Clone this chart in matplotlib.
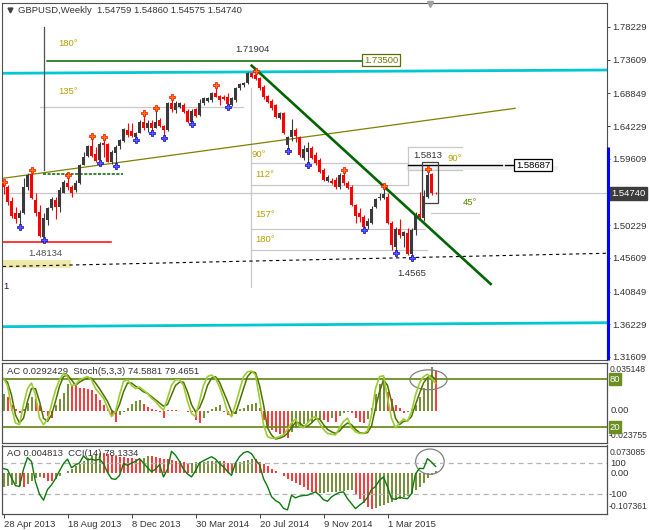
import matplotlib
matplotlib.use('Agg')
import matplotlib.pyplot as plt
import numpy as np
from matplotlib.patches import Rectangle, Ellipse

plt.rcParams['font.family'] = ['Liberation Sans', 'DejaVu Sans']

# --- dados: GBPUSD semanal, barra 0 = semana de 28 Apr 2013 ---
opens = [1.5600, 1.5566, 1.5368, 1.5199, 1.5120, 1.5191, 1.5566, 1.5740, 1.5379, 1.5213,
         1.4860, 1.5096, 1.5261, 1.5379, 1.5284, 1.5482, 1.5615, 1.5558, 1.5520, 1.5615,
         1.5873, 1.6000, 1.6141, 1.6028, 1.5944, 1.6180, 1.6170, 1.5920, 1.6040, 1.6141,
         1.6212, 1.6368, 1.6353, 1.6269, 1.6325, 1.6485, 1.6396, 1.6471, 1.6396, 1.6509,
         1.6424, 1.6368, 1.6753, 1.6650, 1.6697, 1.6721, 1.6640, 1.6485, 1.6660, 1.6579,
         1.6745, 1.6781, 1.6791, 1.6886, 1.6848, 1.6829, 1.6838, 1.6721, 1.6791, 1.6957,
         1.7003, 1.7027, 1.7177, 1.7145, 1.7098, 1.6979, 1.6848, 1.6781, 1.6721, 1.6533,
         1.6603, 1.6156, 1.6269, 1.6368, 1.6264, 1.5972, 1.6061, 1.6109, 1.6014, 1.5944,
         1.5802, 1.5651, 1.5651, 1.5661, 1.5566, 1.5732, 1.5623, 1.5566, 1.5308, 1.5191,
         1.5143, 1.5011, 1.5058, 1.5284, 1.5403, 1.5403, 1.5425, 1.5049, 1.4715, 1.4969,
         1.4870, 1.4910, 1.4616, 1.4955, 1.5185, 1.5125, 1.5420, 1.5742, 1.54759]
highs = [1.5625, 1.5591, 1.5425, 1.5284, 1.5237, 1.5689, 1.5760, 1.5802, 1.5480, 1.5308,
         1.5191, 1.5284, 1.5425, 1.5425, 1.5566, 1.5655, 1.5732, 1.5591, 1.5661, 1.5887,
         1.6061, 1.6156, 1.6283, 1.6127, 1.6204, 1.6264, 1.6180, 1.6085, 1.6156, 1.6240,
         1.6396, 1.6462, 1.6466, 1.6340, 1.6509, 1.6603, 1.6509, 1.6509, 1.6668, 1.6533,
         1.6440, 1.6767, 1.6823, 1.6777, 1.6770, 1.6749, 1.6660, 1.6660, 1.6683, 1.6801,
         1.6838, 1.6838, 1.6909, 1.6996, 1.6862, 1.6855, 1.6886, 1.6838, 1.6975, 1.7032,
         1.7050, 1.7185, 1.7185, 1.7190, 1.7116, 1.7003, 1.6862, 1.6805, 1.6735, 1.6626,
         1.6626, 1.6283, 1.6519, 1.6396, 1.6283, 1.6156, 1.6198, 1.6141, 1.6057, 1.5972,
         1.5831, 1.5725, 1.5689, 1.5704, 1.5760, 1.5802, 1.5647, 1.5591, 1.5322, 1.5266,
         1.5167, 1.5120, 1.5294, 1.5403, 1.5473, 1.5576, 1.5478, 1.5082, 1.4997, 1.5110,
         1.4941, 1.4990, 1.4983, 1.5210, 1.5498, 1.5523, 1.5815, 1.5760, 1.54860]
lows = [1.5470, 1.5308, 1.5120, 1.5055, 1.5010, 1.5181, 1.5520, 1.5395, 1.5153, 1.4860,
        1.4814, 1.5025, 1.5237, 1.5106, 1.5213, 1.5478, 1.5520, 1.5425, 1.5496, 1.5605,
        1.5873, 1.5990, 1.5990, 1.5920, 1.5906, 1.5990, 1.5915, 1.5890, 1.5862, 1.6099,
        1.6198, 1.6264, 1.6268, 1.6233, 1.6321, 1.6368, 1.6344, 1.6329, 1.6396, 1.6414,
        1.6255, 1.6353, 1.6622, 1.6608, 1.6680, 1.6608, 1.6471, 1.6460, 1.6547, 1.6565,
        1.6721, 1.6763, 1.6767, 1.6829, 1.6721, 1.6785, 1.6695, 1.6707, 1.6767, 1.6933,
        1.6979, 1.7017, 1.7102, 1.7067, 1.6933, 1.6805, 1.6749, 1.6650, 1.6537, 1.6523,
        1.6304, 1.6075, 1.6212, 1.6198, 1.5986, 1.5944, 1.5873, 1.5958, 1.5880, 1.5760,
        1.5640, 1.5633, 1.5605, 1.5534, 1.5540, 1.5591, 1.5534, 1.5294, 1.5054, 1.5068,
        1.4955, 1.4975, 1.5040, 1.5266, 1.5379, 1.5389, 1.5040, 1.4672, 1.4637, 1.4842,
        1.4715, 1.4595, 1.4565, 1.4890, 1.5090, 1.5085, 1.5400, 1.5447, 1.54575]
closes = [1.5560, 1.5355, 1.5153, 1.5106, 1.5191, 1.5566, 1.5732, 1.5403, 1.5191, 1.4870,
          1.5120, 1.5266, 1.5389, 1.5284, 1.5520, 1.5637, 1.5558, 1.5482, 1.5623, 1.5873,
          1.5990, 1.6141, 1.6000, 1.5934, 1.6170, 1.6156, 1.5920, 1.6060, 1.6127, 1.6226,
          1.6377, 1.6297, 1.6283, 1.6325, 1.6485, 1.6400, 1.6471, 1.6391, 1.6485, 1.6424,
          1.6368, 1.6753, 1.6664, 1.6749, 1.6745, 1.6626, 1.6485, 1.6640, 1.6565, 1.6745,
          1.6815, 1.6815, 1.6886, 1.6838, 1.6791, 1.6801, 1.6735, 1.6815, 1.6957, 1.7017,
          1.7036, 1.7169, 1.7121, 1.7084, 1.6957, 1.6827, 1.6767, 1.6674, 1.6555, 1.6603,
          1.6321, 1.6264, 1.6368, 1.6283, 1.6014, 1.6099, 1.6109, 1.5968, 1.5897, 1.5778,
          1.5661, 1.5699, 1.5615, 1.5558, 1.5732, 1.5615, 1.5544, 1.5308, 1.5153, 1.5143,
          1.5001, 1.5082, 1.5252, 1.5389, 1.5421, 1.5463, 1.5049, 1.4743, 1.4969, 1.4884,
          1.4927, 1.4616, 1.4948, 1.5185, 1.5135, 1.5440, 1.5725, 1.5478, 1.54740]

up_fractals = [0, 7, 16, 22, 25, 35, 38, 42, 53, 63, 85, 95, 106]
down_fractals = [4, 10, 24, 28, 33, 37, 40, 47, 56, 71, 76, 90, 98, 102]

stoch_main = [81, 72, 44, 25, 23, 48, 68, 75, 60, 31, 23, 29, 48, 66, 79, 87, 83, 72, 73, 79,
              81, 83, 79, 68, 62, 56, 44, 33, 39, 60, 77, 79, 72, 68, 70, 66, 62, 56, 52, 46,
              41, 56, 72, 79, 79, 72, 52, 37, 33, 52, 72, 83, 85, 81, 70, 56, 39, 33, 48, 66,
              83, 89, 90, 85, 56, 23, 8, 6, 6, 8, 10, 17, 25, 30, 21, 19, 25, 31, 33, 25,
              17, 12, 11, 10, 19, 27, 31, 19, 14, 12, 12, 15, 35, 68, 83, 84, 56, 31, 19, 25,
              30, 27, 39, 60, 75, 83, 86, 81, 74.5881]
stoch_signal = [80, 76, 60, 35, 25, 31, 52, 68, 68, 52, 31, 27, 35, 52, 71, 83, 85, 79, 72, 76,
                79, 81, 81, 75, 68, 60, 52, 41, 37, 48, 64, 75, 75, 71, 68, 64, 62, 58, 54, 50,
                46, 48, 60, 72, 76, 76, 64, 48, 39, 44, 56, 72, 81, 83, 76, 64, 52, 39, 37, 52,
                68, 83, 89, 88, 72, 48, 19, 10, 5, 6, 8, 12, 19, 26, 25, 21, 21, 25, 30, 30,
                23, 17, 14, 12, 15, 21, 25, 23, 17, 13, 12, 13, 21, 44, 64, 79, 72, 52, 31, 23,
                27, 28, 33, 48, 62, 75, 82, 84, 79.4651]
# AC e AO em milésimos
ac_values = [12, 10, 4, 1, -2, 1, 6, 10, 9, 4, -1, -4, -5, 4, 9, 13, 20, 19, 18, 17,
             16.5, 16, 15, 12, 8, 4, 1, -4, -8, -3, -1, 2, 5, 7, 8, 5, 3, 1, 0.5, -1,
             -5, 0.5, 0.3, 0.2, 0.1, -0.3, -0.6, -1, -7, -9, -5, -2, 1, 3, 4, -1, -3, -4, -2.5, 1,
             2, 4, 5, 5.5, 2, -7, -11, -14, -16, -17, -19, -20, -16, -13, -12, -10, -9, -8, -7, -6,
             -7, -8, -5.5, -8.5, -4, -2, -1, -1.5, -5.5, -8, -9, -6, 2, 12, 20, 25, 14, 9, 4, 2,
             -2, -1, 1, 4, 10, 17, 24, 32, 29.2429]
ao_values = [-36, -34, -32, -30, -34, -36, -30, -20, -12, -10, -13, -20, -22, -15, -8, 0, 6, 12, 18, 24,
             32, 40, 46, 50, 54, 52, 50, 47, 45, 43, 42, 40, 39, 38, 37, 41, 45, 44, 42, 40,
             38, 36, 35, 33, 31, 28, 26, 27, 28, 29, 30, 31, 32, 33, 33, 31, 27, 24, 26, 29,
             32, 35, 37, 36, 29, 24, 18, 12, 6, 0.5, -8, -15, -20, -26, -32, -38, -44, -50, -54, -53,
             -52, -51, -50, -49, -48, -47, -46, -45, -55, -68, -80, -90, -95, -92, -88, -84, -80, -76, -72, -68,
             -64, -60, -55, -46, -36, -26, -14, -4, 4.813]
cci_values = [64, 58, 5, -45, -50, 60, 135, 110, -20, -100, -138, -70, -40, 0, 50, 96, 125, 70, 88, 100,
              145, 120, 125, 117, 125, 96, 40, 0, -5, 20, 96, 85, 100, 110, 128, 100, 70, 45, 60, 90,
              11, 60, 175, 150, 110, 60, 30, 11, 50, 100, 115, 128, 140, 125, 96, 75, 45, 21, 100, 140,
              165, 174, 160, 120, 90, 0, -50, -115, -140, -155, -190, -200, -106, -123, -112, -108, -106, -95, -85, -106,
              -135, -145, -117, -100, -88, -85, -128, -160, -192, -170, -150, -120, -70, -50, -10, 11, -53, -128, -132, -119,
              -125, -128, -96, 30, 66, 64, 128, 106, 78.1334]

price_ticks = [1.78229, 1.73609, 1.68849, 1.64229, 1.59609, 1.50229, 1.45609, 1.40849, 1.36229, 1.31609]
date_ticks = [0, 16, 32, 48, 64, 80, 96]
date_labels = ['28 Apr 2013', '18 Aug 2013', '8 Dec 2013', '30 Mar 2014',
               '20 Jul 2014', '9 Nov 2014', '1 Mar 2015']

# --- estilo ---
FS = 6.8
FS_SMALL = 6.2
TXT = '#333333'
GANN = '#b8a000'
BULL = '#3a3a3a'
BEAR = '#ff0000'
HIST_UP = '#4f6f00'
GRAY = '#c8c8c8'
XMIN, XMAX = -0.375, 150.875

W, H = 650, 530
def box(x0, y0, x1, y1):
    return [x0 / W, 1 - y1 / H, (x1 - x0) / W, (y1 - y0) / H]

fig = plt.figure(figsize=(6.5, 5.3), dpi=100)
ax = fig.add_axes(box(2, 3, 607, 360))
ax_ac = fig.add_axes(box(2, 363, 607, 443))
ax_ao = fig.add_axes(box(2, 445.5, 607, 513.5))
ax_st = ax_ac.twinx()
ax_cci = ax_ao.twinx()

for a in (ax, ax_ac, ax_ao, ax_st, ax_cci):
    a.set_xlim(XMIN, XMAX)
    for s in a.spines.values():
        s.set_color('#505050')
        s.set_linewidth(0.8)

o = np.array(opens); h = np.array(highs); l = np.array(lows); c = np.array(closes)
x = np.arange(len(c))
cols = [BULL if cc >= oo else BEAR for oo, cc in zip(o, c)]

# --- gráfico principal ---
ax.set_ylim(1.31183, 1.81616)

# linhas cinzas / níveis (atrás das velas)
ax.axhline(1.5474, color=GRAY, lw=0.9, zorder=1)
ax.plot([9.1, 59.9], [1.6692, 1.6692], color=GRAY, lw=0.9, zorder=1)
ax.plot([61.9, 61.9], [1.6961, 1.4150], color=GRAY, lw=0.9, zorder=1)
for lvl, x_end in [(1.5897, 101.1), (1.5586, 101.1), (1.4965, 105.4), (1.4672, 105.9)]:
    ax.plot([61.9, x_end], [lvl, lvl], color=GRAY, lw=0.9, zorder=1)
ax.plot([101.1, 101.1], [1.6123, 1.5591], color=GRAY, lw=0.9, zorder=1)
ax.plot([101.1, 114.6], [1.6123, 1.6123], color=GRAY, lw=0.9, zorder=1)
ax.plot([101.1, 114.6], [1.5802, 1.5802], color=GRAY, lw=0.9, zorder=1)
ax.plot([106.9, 118.9], [1.5199, 1.5199], color=GRAY, lw=0.9, zorder=1)
ax.add_patch(Rectangle((100.6, 1.5802), 38.0, 0.0061, fc='#f0f0f0', ec='none', zorder=0.5))

# canal ciano
ax.plot([XMIN, XMAX], [1.7169, 1.7215], color='#00c8d0', lw=2.0, zorder=2)
ax.plot([XMIN, XMAX], [1.3589, 1.3645], color='#00c8d0', lw=2.0, zorder=2)

# outros objetos
ax.plot([10, 10], [1.7823, 1.5802], color='#505050', lw=0.9, zorder=2)
ax.plot([10.9, 89.6], [1.7345, 1.7345], color='#006400', lw=1.1, zorder=2)
ax.plot([-0.2, 127.9], [1.5685, 1.6674], color='#808000', lw=0.9, zorder=2)
ax.plot([9.9, 29.9], [1.5746, 1.5746], color='#006400', lw=1.1, ls=(0, (2, 1)), zorder=2)
ax.plot([-0.2, XMAX], [1.4439, 1.4626], color='black', lw=0.8, ls=(0, (3, 3)), zorder=2)
ax.add_patch(Rectangle((-0.125, 1.4413), 17.0, 0.0118, fc='#eee8aa', ec='none', zorder=1.5))
ax.plot([XMIN, 26.8], [1.4785, 1.4785], color='#ff0000', lw=1.1, zorder=2)
ax.plot([101.1, 124.6], [1.58687, 1.58687], color='black', lw=1.0, zorder=2)
ax.plot([125.4, 127.6], [1.58687, 1.58687], color='black', lw=1.0, zorder=2)
ax.add_patch(Rectangle((104.55, 1.5332), 4.0, 0.0579, fc='none', ec='#404040', lw=0.9, zorder=4))

# velas
body_lo = np.minimum(o, c)
body_h = np.maximum(np.abs(c - o), 0.0007)
ax.vlines(x, l, h, colors=cols, lw=0.8, zorder=3)
ax.bar(x, body_h, bottom=body_lo, width=0.75, color=cols, linewidth=0, zorder=3)

# fractais
ax.plot(up_fractals, h[up_fractals] + 0.0006, 'P', ms=4, mfc='#ff7a00', mec='#ff0000', mew=0.5, zorder=5)
ax.plot(down_fractals, l[down_fractals] - 0.0006, 'P', ms=4, mfc='#5a5aff', mec='#0000d0', mew=0.5, zorder=5)

# linha de tendência verde
ax.plot([62.05, 121.8], [1.7276, 1.4192], color='#006400', lw=1.9, zorder=4)

# textos
ax.text(13.7, 1.7588, '180°', color=GANN, fontsize=FS, va='center', zorder=6)
ax.text(13.7, 1.6918, '135°', color=GANN, fontsize=FS, va='center', zorder=6)
ax.text(57.9, 1.7498, '1.71904', color=TXT, fontsize=FS, va='center', zorder=6)
ax.text(90.1, 1.7352, '1.73500', color='#6b7b00', fontsize=FS, va='center', zorder=6,
        bbox=dict(boxstyle='square,pad=0.15', fc='white', ec='#5a6e00', lw=0.9))
ax.text(62.05, 1.6028, '90°', color=GANN, fontsize=FS, va='center', zorder=6)
ax.text(62.9, 1.5732, '112°', color=GANN, fontsize=FS, va='center', zorder=6)
ax.text(62.9, 1.5167, '157°', color=GANN, fontsize=FS, va='center', zorder=6)
ax.text(62.9, 1.4823, '180°', color=GANN, fontsize=FS, va='center', zorder=6)
ax.text(102.45, 1.6014, '1.5813', color=TXT, fontsize=FS, va='center', zorder=6)
ax.text(111.05, 1.5958, '90°', color=GANN, fontsize=FS, va='center', zorder=6)
ax.text(114.95, 1.5340, '45°', color='#5a8a00', fontsize=FS, va='center', zorder=6)
ax.text(128.1, 1.58687, '1.58687', color='black', fontsize=FS, va='center', zorder=6,
        bbox=dict(boxstyle='square,pad=0.15', fc='white', ec='black', lw=0.9))
ax.text(98.5, 1.4343, '1.4565', color=TXT, fontsize=FS, va='center', zorder=6)
ax.text(6.2, 1.4626, '1.48134', color='#505050', fontsize=FS, va='center', zorder=6)
ax.text(-0.1, 1.4150, '1', color='#400060', fontsize=FS, va='center', zorder=6)
ax.text(0.027, 0.978, 'GBPUSD,Weekly  1.54759 1.54860 1.54575 1.54740', transform=ax.transAxes,
        color=TXT, fontsize=FS, va='center', zorder=6)
ax.plot([0.0125], [0.979], 'v', ms=3.5, color='#404040', transform=ax.transAxes, zorder=6)
ax.plot([106.6], [1.8145], 'v', ms=4, color='#a0a0a0', clip_on=False, zorder=6)

# eixo de preços
ax.yaxis.tick_right()
ax.set_yticks(price_ticks)
ax.set_yticklabels([f'{p:.5f}' for p in price_ticks])
ax.tick_params(axis='y', direction='out', length=2.5, width=0.7, color='#404040',
               labelsize=FS, pad=1.5, labelcolor=TXT)
ax.tick_params(axis='x', bottom=False, labelbottom=False)
ax.text(1.0066, 1.5474, '1.54740', transform=ax.get_yaxis_transform(), color='white',
        fontsize=FS, va='center', ha='left', clip_on=False,
        bbox=dict(boxstyle='square,pad=0.2', fc='#3c3c3c', ec='#3c3c3c'))
ax.plot([XMAX + 0.3, XMAX + 0.3], [1.6126, 1.31183], color='#0000ff', lw=2.2,
        clip_on=False, solid_capstyle='butt', zorder=6)

# --- AC + Stochastic ---
ac = np.array(ac_values) / 1000.0
ac_cols = [HIST_UP if i == 0 or ac[i] >= ac[i - 1] else BEAR for i in range(len(ac))]
ax_ac.set_ylim(-0.023755, 0.035148)
ax_ac.vlines(x, 0, ac, colors=ac_cols, lw=1.1)
ax_st.set_ylim(0, 100)
ax_st.axhline(80, color='#6b8e23', lw=1.3)
ax_st.axhline(20, color='#6b8e23', lw=1.3)
ax_st.plot(x, stoch_signal, color='#4e7000', lw=1.1)
ax_st.plot(x, stoch_main, color='#9acd32', lw=1.2)
ax_st.add_patch(Ellipse((106.25, 79), 9.25, 24.8, fill=False, ec='#808080', lw=0.9))
ax_ac.text(0.0088, 0.896, 'AC 0.0292429  Stoch(5,3,3) 74.5881 79.4651', transform=ax_ac.transAxes,
           color=TXT, fontsize=FS, va='center')
ax_ac.text(1.004, 0.9125, '0.035148', transform=ax_ac.transAxes, color=TXT, fontsize=FS_SMALL, va='center')
ax_ac.text(1.006, 0.0, '0.00', transform=ax_ac.get_yaxis_transform(), color=TXT, fontsize=FS, va='center')
ax_ac.text(1.002, 0.0875, '-0.023755', transform=ax_ac.transAxes, color=TXT, fontsize=FS_SMALL, va='center')
for lv in (80, 20):
    ax_st.text(1.0045, lv, str(lv), transform=ax_st.get_yaxis_transform(), color='white',
               fontsize=FS, va='center', clip_on=False,
               bbox=dict(boxstyle='square,pad=0.12', fc='#6b8e23', ec='#6b8e23'))

# --- AO + CCI ---
ao = np.array(ao_values) / 1000.0
ao_cols = [HIST_UP if i == 0 or ao[i] >= ao[i - 1] else BEAR for i in range(len(ao))]
ax_ao.set_ylim(-0.107361, 0.073085)
ax_ao.vlines(x, 0, ao, colors=ao_cols, lw=1.1)
ax_cci.set_ylim(-223, 212)
ax_cci.axhline(100, color='#b4b4b4', lw=0.9, ls=(0, (4, 3)))
ax_cci.axhline(-100, color='#b4b4b4', lw=0.9, ls=(0, (4, 3)))
ax_cci.plot(x, cci_values, color='#0a7a0a', lw=1.0)
ax_cci.add_patch(Ellipse((106.6, 108.6), 7.15, 161.7, fill=False, ec='#808080', lw=0.9))
ax_ao.text(0.0088, 0.879, 'AO 0.004813  CCI(14) 78.1334', transform=ax_ao.transAxes,
           color=TXT, fontsize=FS, va='center')
ax_ao.text(1.004, 0.904, '0.073085', transform=ax_ao.transAxes, color=TXT, fontsize=FS_SMALL, va='center')
ax_ao.text(1.006, 0.0, '0.00', transform=ax_ao.get_yaxis_transform(), color=TXT, fontsize=FS, va='center')
ax_ao.text(1.002, 0.0956, '-0.107361', transform=ax_ao.transAxes, color=TXT, fontsize=FS_SMALL, va='center')
ax_cci.text(1.006, 100, '100', transform=ax_cci.get_yaxis_transform(), color=TXT, fontsize=FS, va='center')
ax_cci.text(1.003, -100, '-100', transform=ax_cci.get_yaxis_transform(), color=TXT, fontsize=FS, va='center')

# ticks
for a in (ax_ac, ax_st, ax_cci):
    a.set_yticks([])
    a.tick_params(axis='x', bottom=False, labelbottom=False)
ax_ao.set_yticks([])
ax_ao.set_xticks(date_ticks)
ax_ao.set_xticklabels(date_labels, ha='left')
ax_ao.tick_params(axis='x', direction='out', length=3, width=0.7, color='#404040',
                  labelsize=FS, pad=1.5, labelcolor=TXT)

fig.savefig('out.png', dpi=100, facecolor='white')
